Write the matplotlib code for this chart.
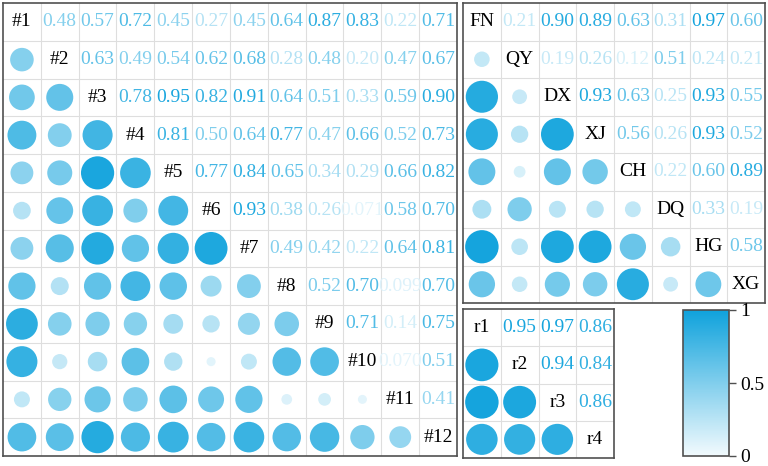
import numpy as np
import matplotlib
matplotlib.use("Agg")
import matplotlib.pyplot as plt
from matplotlib.colors import LinearSegmentedColormap, Normalize
from matplotlib.patches import Circle
import matplotlib.cm as cm

plt.rcParams['font.family'] = ['Liberation Serif', 'DejaVu Serif']

# ---- data (upper triangles, row by row) ----
labels_a = ['#1', '#2', '#3', '#4', '#5', '#6', '#7', '#8', '#9', '#10', '#11', '#12']
upper_a = [
    [0.48, 0.57, 0.72, 0.45, 0.27, 0.45, 0.64, 0.87, 0.83, 0.22, 0.71],
    [0.63, 0.49, 0.54, 0.62, 0.68, 0.28, 0.48, 0.20, 0.47, 0.67],
    [0.78, 0.95, 0.82, 0.91, 0.64, 0.51, 0.33, 0.59, 0.90],
    [0.81, 0.50, 0.64, 0.77, 0.47, 0.66, 0.52, 0.73],
    [0.77, 0.84, 0.65, 0.34, 0.29, 0.66, 0.82],
    [0.93, 0.38, 0.26, 0.071, 0.58, 0.70],
    [0.49, 0.42, 0.22, 0.64, 0.81],
    [0.52, 0.70, 0.099, 0.70],
    [0.71, 0.14, 0.75],
    [0.070, 0.51],
    [0.41],
]

labels_b = ['FN', 'QY', 'DX', 'XJ', 'CH', 'DQ', 'HG', 'XG']
upper_b = [
    [0.21, 0.90, 0.89, 0.63, 0.31, 0.97, 0.60],
    [0.19, 0.26, 0.12, 0.51, 0.24, 0.21],
    [0.93, 0.63, 0.25, 0.93, 0.55],
    [0.56, 0.26, 0.93, 0.52],
    [0.22, 0.60, 0.89],
    [0.33, 0.19],
    [0.58],
]

labels_c = ['r1', 'r2', 'r3', 'r4']
upper_c = [
    [0.95, 0.97, 0.86],
    [0.94, 0.84],
    [0.86],
]

cmap = LinearSegmentedColormap.from_list('blu', ['#f2fafd', '#0fa2dc'])
norm = Normalize(0, 1)


def build(upper, n):
    m = np.eye(n)
    for i, row in enumerate(upper):
        for k, v in enumerate(row):
            j = i + 1 + k
            m[i, j] = v
            m[j, i] = v
    return m


def fmt(v):
    return f"{v:.2f}" if v >= 0.1 else f"{v:.3f}"


def draw(ax, labels, upper, fs=14):
    n = len(labels)
    m = build(upper, n)
    ax.set_xlim(0, n)
    ax.set_ylim(n, 0)
    ax.set_aspect('auto')
    for k in range(1, n):
        ax.axhline(k, color='#dedede', lw=0.8, zorder=0)
        ax.axvline(k, color='#dedede', lw=0.8, zorder=0)
    for i in range(n):
        for j in range(n):
            v = m[i, j]
            cx, cy = j + 0.5, i + 0.5
            if i == j:
                ax.text(cx, cy, labels[i], ha='center', va='center',
                        fontsize=fs, color='black')
            elif j > i:
                ax.text(cx, cy, fmt(v), ha='center', va='center',
                        fontsize=fs, color=cmap(norm(v)))
            else:
                r = 0.45 * np.sqrt(abs(v))
                ax.add_patch(Circle((cx, cy), r, facecolor=cmap(norm(v)),
                                    edgecolor='none', zorder=2))
    ax.set_xticks([])
    ax.set_yticks([])
    for s in ax.spines.values():
        s.set_color('#505050')
        s.set_linewidth(1.2)


fig = plt.figure(figsize=(7.68, 4.66), dpi=100)
W, H = 768, 466


def rect(x0, y0, x1, y1):
    return [x0 / W, (H - y1) / H, (x1 - x0) / W, (y1 - y0) / H]


ax1 = fig.add_axes(rect(3, 3, 457, 456))
draw(ax1, labels_a, upper_a)
ax2 = fig.add_axes(rect(463, 3, 765, 303))
draw(ax2, labels_b, upper_b)
ax3 = fig.add_axes(rect(463, 309, 614, 458))
draw(ax3, labels_c, upper_c)

cax = fig.add_axes(rect(683, 310, 729, 456))
sm = cm.ScalarMappable(norm=norm, cmap=cmap)
cb = fig.colorbar(sm, cax=cax, ticks=[0, 0.5, 1])
cb.ax.set_yticklabels(['0', '0.5', '1'])
cb.ax.tick_params(labelsize=14, length=5, width=1, color='#505050', pad=3)
cb.outline.set_edgecolor('#505050')
cb.outline.set_linewidth(1.2)

fig.savefig('out.png', dpi=100)
